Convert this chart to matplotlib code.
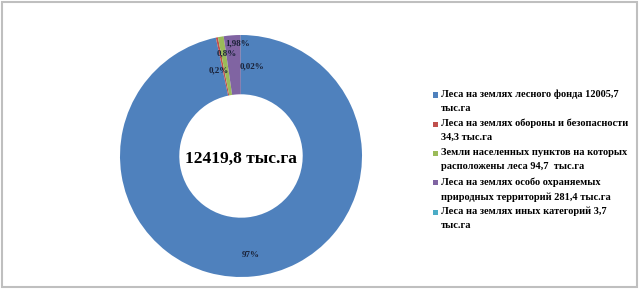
import matplotlib.pyplot as plt
from matplotlib.patches import Rectangle

# values in thousand ha
categories = [
    "Леса на землях лесного фонда 12005,7\nтыс.га",
    "Леса на землях обороны и безопасности\n34,3 тыс.га",
    "Земли населенных пунктов на которых\nрасположены леса 94,7  тыс.га",
    "Леса на землях особо охраняемых\nприродных территорий 281,4 тыс.га",
    "Леса на землях иных категорий 3,7\nтыс.га",
]
values = [12005.7, 34.3, 94.7, 281.4, 3.7]
pct_labels = ["97%", "0,2%", "0,8%", "1,98%", "0,02%"]
total_label = "12419,8 тыс.га"

colors = ['#4F81BD', '#C0504D', '#9BBB59', '#8064A2', '#4BACC6']
# label positions (pie units) for the percent labels
label_pos = [(0.08, -0.82), (-0.18, 0.71), (-0.115, 0.85), (-0.025, 0.93), (0.09, 0.74)]

serif = ['Liberation Serif', 'DejaVu Serif']
W, H = 640, 289

fig = plt.figure(figsize=(6.4, 2.89), dpi=100)
ax = fig.add_axes([120 / W, 12 / H, 242 / W, 242 / H])

wedges, _ = ax.pie(values, colors=colors, startangle=90, counterclock=False,
                   radius=1.0, wedgeprops=dict(width=0.49, linewidth=0))
ax.set_xlim(-1, 1)
ax.set_ylim(-1, 1)
ax.set_aspect('equal')

for txt, (x, y) in zip(pct_labels, label_pos):
    ax.text(x, y, txt, ha='center', va='center', fontsize=6.5, fontweight='bold',
            family=serif, color='#1A2238')

ax.text(0, -0.02, total_label, ha='center', va='center', fontsize=12.5,
        fontweight='bold', family=serif, color='black')

# legend drawn by hand so the square sits on the first text line
y0, step = 95, 29.3
for i, (lab, c) in enumerate(zip(categories, colors)):
    yc = y0 + i * step
    fig.text(441 / W, 1 - (yc - 5.5) / H, lab, ha='left', va='top', fontsize=7.5,
             fontweight='bold', family=serif, color='black', linespacing=1.7)
    fig.patches.append(Rectangle((433 / W, 1 - (yc + 2.5) / H), 5 / W, 5 / H,
                                 transform=fig.transFigure, facecolor=c, edgecolor='none'))

# light gray frame around the chart area
fig.patches.append(Rectangle((0.003, 0.006), 0.993, 0.988, transform=fig.transFigure,
                             fill=False, edgecolor='#BFBFBF', linewidth=1.5))

fig.savefig('out.png', dpi=100)
